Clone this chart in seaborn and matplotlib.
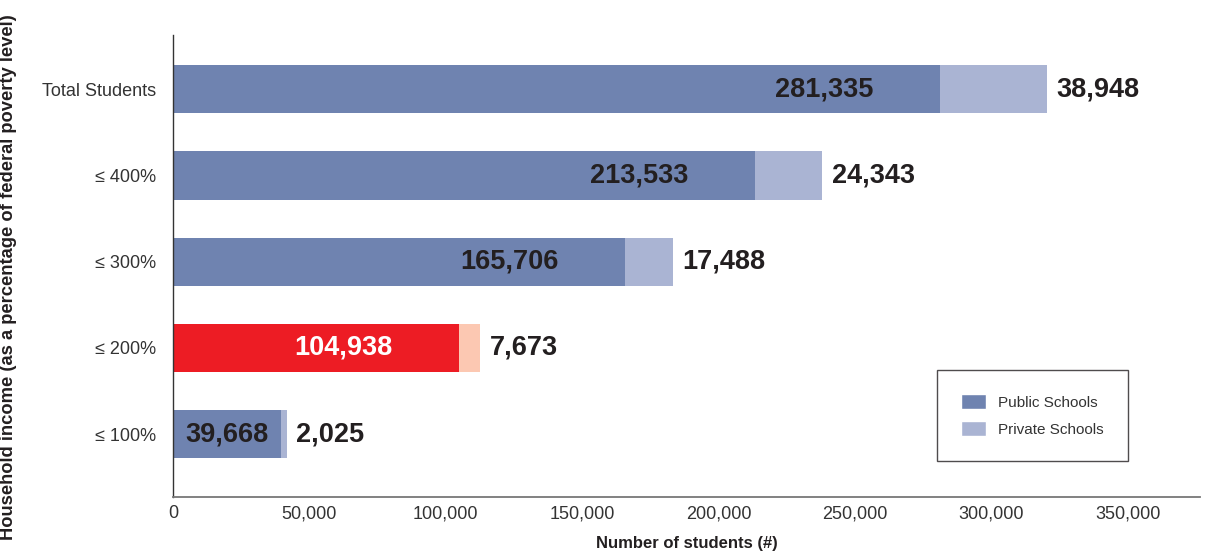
import matplotlib
matplotlib.use("Agg")
import matplotlib.pyplot as plt
from matplotlib import font_manager
import seaborn as sns
import pandas as pd
from matplotlib.patches import Patch
from matplotlib.ticker import FuncFormatter

# Students by household income band (as % of federal poverty level)
categories = ["Total Students", "\u2264 400%", "\u2264 300%", "\u2264 200%", "\u2264 100%"]
public_students = [281335, 213533, 165706, 104938, 39668]
private_students = [38948, 24343, 17488, 7673, 2025]

PUBLIC = "#6f83b0"
PRIVATE = "#aab4d3"
HILITE = "#ed1c24"
HILITE_LIGHT = "#fcc8b2"
highlight_row = "\u2264 200%"

df = pd.DataFrame({
    "category": categories,
    "public": public_students,
    "private": private_students,
})
df["total"] = df["public"] + df["private"]

sns.set_theme(style="white")
plt.rcParams["font.family"] = ["Liberation Sans", "DejaVu Sans"]

# Regular-width bold face for the value labels (avoid the Narrow variant)
bold_path = None
for f in font_manager.fontManager.ttflist:
    fn = f.fname.lower()
    if f.name == "Liberation Sans" and "narrow" not in fn and "bold" in fn and "italic" not in fn:
        bold_path = f.fname
        break
if bold_path:
    bold_fp = font_manager.FontProperties(fname=bold_path, size=19.5)
else:
    bold_fp = font_manager.FontProperties(family="Liberation Sans", weight="bold", size=19.5)

fig = plt.figure(figsize=(12.13, 5.55), dpi=100)
ax = fig.add_axes([0.1426, 0.1045, 0.8467, 0.8325])

pal_total = {c: (HILITE_LIGHT if c == highlight_row else PRIVATE) for c in categories}
pal_public = {c: (HILITE if c == highlight_row else PUBLIC) for c in categories}

# Full stacked length first (private share), then public share on top
sns.barplot(data=df, x="total", y="category", hue="category", palette=pal_total,
            order=categories, hue_order=categories, orient="h", width=0.56,
            legend=False, saturation=1, linewidth=0, ax=ax)
sns.barplot(data=df, x="public", y="category", hue="category", palette=pal_public,
            order=categories, hue_order=categories, orient="h", width=0.56,
            legend=False, saturation=1, linewidth=0, ax=ax)

ax.set_xlim(0, 376500)
ax.set_ylim(4.73, -0.63)

# Value labels
for i, row in df.iterrows():
    pub_col = "white" if row["category"] == highlight_row else "#231f20"
    if row["public"] > 80000:
        ax.annotate(f"{row['public']:,}", xy=(row["public"], i), xytext=(-48, 0),
                    textcoords="offset points", ha="right", va="center",
                    fontproperties=bold_fp, color=pub_col)
    else:
        ax.text(row["public"] / 2, i, f"{row['public']:,}", ha="center", va="center",
                fontproperties=bold_fp, color=pub_col)
    ax.annotate(f"{row['private']:,}", xy=(row["total"], i), xytext=(7, 0),
                textcoords="offset points", ha="left", va="center",
                fontproperties=bold_fp, color="#231f20")

# Axes styling
ax.set_xticks(range(0, 350001, 50000))
ax.xaxis.set_major_formatter(FuncFormatter(lambda v, p: f"{int(v):,}"))
ax.tick_params(axis="x", direction="in", length=8, width=1, color="#555555",
               labelsize=13, labelcolor="#333333", pad=6)
ax.tick_params(axis="y", length=0, labelsize=13, labelcolor="#333333", pad=12)
for s in ["top", "right"]:
    ax.spines[s].set_visible(False)
ax.spines["left"].set_color("#333333")
ax.spines["left"].set_linewidth(1)
ax.spines["bottom"].set_color("#777777")
ax.spines["bottom"].set_linewidth(1.3)

ax.set_xlabel("Number of students (#)", fontsize=12, fontweight="bold",
              color="#231f20", labelpad=10)
ax.set_ylabel("Household income (as a percentage of federal poverty level)",
              fontsize=13.2, fontweight="bold", color="#231f20", labelpad=14)
ax.yaxis.set_label_coords(-0.152, 0.475)

handles = [Patch(facecolor=PUBLIC, label="Public Schools"),
           Patch(facecolor=PRIVATE, label="Private Schools")]
leg = ax.legend(handles=handles, loc="lower right", bbox_to_anchor=(0.93, 0.078),
                fontsize=11, frameon=True, fancybox=False, borderpad=1.6,
                handlelength=1.6, handleheight=1.1, handletextpad=0.8,
                labelspacing=0.75, borderaxespad=0)
leg.get_frame().set_edgecolor("#231f20")
leg.get_frame().set_linewidth(1)
for t in leg.get_texts():
    t.set_color("#333333")

fig.savefig("out.png", dpi=100)
